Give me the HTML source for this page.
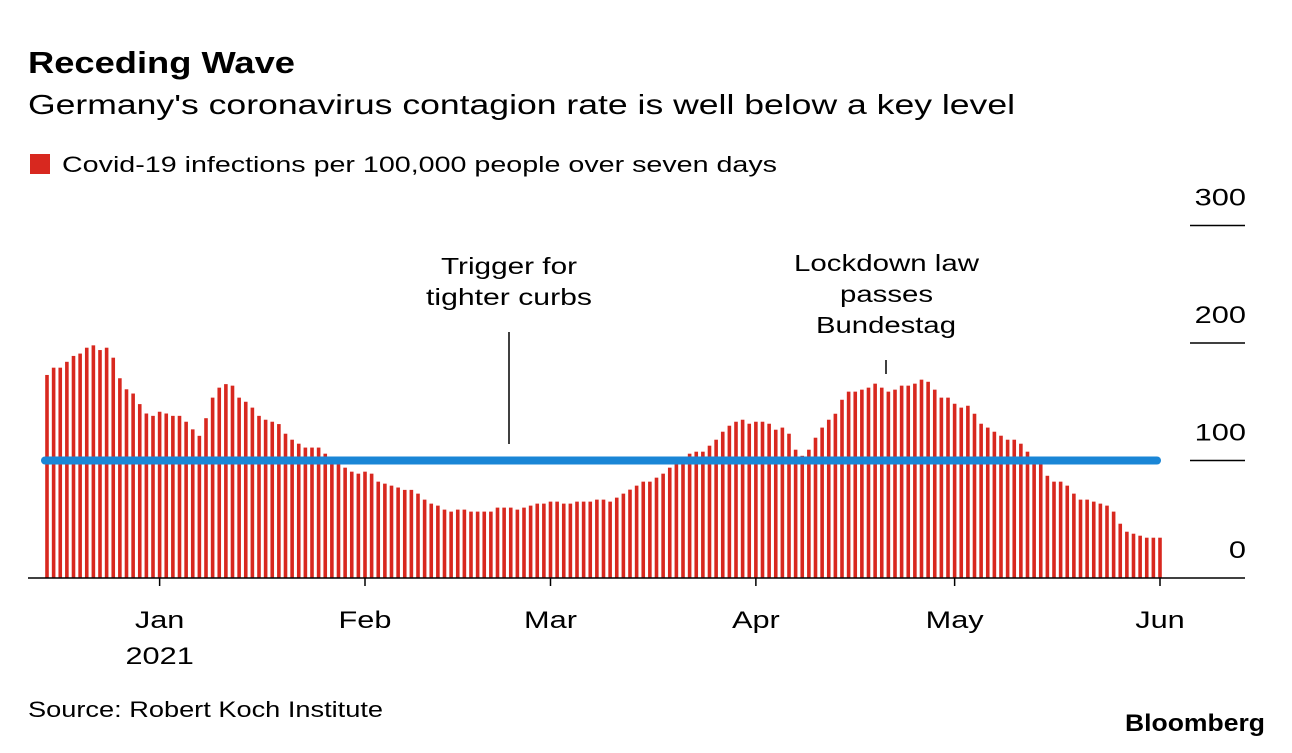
<!DOCTYPE html>
<html><head><meta charset="utf-8"><style>
body{margin:0;background:#fff;font-family:"Liberation Sans",sans-serif;}
svg text{font-family:"Liberation Sans",sans-serif;}
</style></head><body>
<svg id="c" width="1292" height="748" xmlns="http://www.w3.org/2000/svg">
<text x="28" y="73" font-size="31" font-weight="bold" fill="#000" textLength="267" lengthAdjust="spacingAndGlyphs">Receding Wave</text>
<text x="28" y="114" font-size="28" fill="#000" textLength="987" lengthAdjust="spacingAndGlyphs">Germany's coronavirus contagion rate is well below a key level</text>
<rect x="30" y="154" width="20" height="20" fill="#d8281f"/>
<text x="62" y="172" font-size="22" fill="#000" textLength="715" lengthAdjust="spacingAndGlyphs">Covid-19 infections per 100,000 people over seven days</text>
<g id="bars"></g>
<g id="axes"></g>
<g>
<text x="441" y="274" font-size="23" textLength="136" lengthAdjust="spacingAndGlyphs">Trigger for</text>
<text x="426" y="305" font-size="23" textLength="166" lengthAdjust="spacingAndGlyphs">tighter curbs</text>
</g>
<line x1="509" y1="332" x2="509" y2="444" stroke="#000" stroke-width="1.5"/>
<g>
<text x="794" y="271" font-size="23" textLength="185" lengthAdjust="spacingAndGlyphs">Lockdown law</text>
<text x="840" y="302" font-size="23" textLength="93" lengthAdjust="spacingAndGlyphs">passes</text>
<text x="816" y="333" font-size="23" textLength="140" lengthAdjust="spacingAndGlyphs">Bundestag</text>
</g>
<line x1="886" y1="360" x2="886" y2="374" stroke="#000" stroke-width="1.5"/>
<text x="28" y="717" font-size="22" textLength="355" lengthAdjust="spacingAndGlyphs">Source: Robert Koch Institute</text>
<text x="1125" y="731" font-size="24" font-weight="bold" textLength="140" lengthAdjust="spacingAndGlyphs">Bloomberg</text>
</svg>
<script>
const values=[172.8,179,179,184,189,191,196,198,194,196,187.5,170,160.6,157,148,140,138,141.5,140,138,138,133,126.5,121,136,153.5,162,165,163.7,153.5,150,145,138,134.7,133,131,122.8,117.7,114.3,111,111,111,105.8,102,98,93.9,90.5,88.8,90.5,88.8,82,80.3,78.6,77,75,75,
71.8,66.7,63.3,61.6,58.2,56.5,58.2,58.2,56.5,56.5,56.5,56.5,59.9,59.9,59.9,58.2,59.9,61.6,63.3,63.3,65,65,63.3,63.3,65,65,65,66.7,66.7,65,68.4,71.8,75.2,78.6,82,82,85.4,88.8,93.9,98,101,105.8,107.5,107.5,112.6,117.7,124.5,129.6,133,134.7,131.3,133,133,131.3,126.2,128,122.8,
109.2,104,109.2,119.4,128,134.7,139.8,151.7,158.6,158.6,160.3,162,165.4,162,158.6,160.3,163.7,163.7,165.4,168.8,167,160.3,153.5,153.5,148.3,145,146.6,139.8,131.3,128,124.5,121.1,117.7,117.7,114.3,107.5,101,97,87,82,82,78.6,71.8,66.7,66.7,65,63.3,61.6,56.5,46.2,39.4,37.7,36,34.3,34.3,34.3];
const yTicks=[0,100,200,300];
const monthLabels=["Jan","Feb","Mar","Apr","May","Jun"];
const monthDayIndex=[17,48,76,107,137,168];
const threshold=[100];
const NS="http://www.w3.org/2000/svg";
const y=v=>578-v*1.175;
const x=i=>47+i*6.625;
function mk(tag,attrs,parent){const e=document.createElementNS(NS,tag);for(const k in attrs)e.setAttribute(k,attrs[k]);parent.appendChild(e);return e;}
function widen(t){const w=t.getComputedTextLength();t.setAttribute('textLength',(w*1.28).toFixed(1));t.setAttribute('lengthAdjust','spacingAndGlyphs');}
const bars=document.getElementById('bars'),axes=document.getElementById('axes');
values.forEach((v,i)=>{
  const r=mk('rect',{x:x(i)-1.8,y:y(v),width:3.6,height:578-y(v),fill:'#d8281f'},bars);
  
  
});
const bl=mk('line',{x1:45,x2:1157,y1:y(threshold[0]),y2:y(threshold[0]),stroke:'#1a86d6','stroke-width':8,'stroke-linecap':'round'},axes);


const base=mk('line',{x1:28,x2:1245,y1:578,y2:578,stroke:'#000','stroke-width':1.5},axes);


yTicks.forEach(t=>{
  if(t>0){const l=mk('line',{x1:1190,x2:1245,y1:y(t),y2:y(t),stroke:'#000','stroke-width':1.5},axes);
  
  }
  const tx=mk('text',{x:1246,y:y(t)-20,'font-size':24,'text-anchor':'end',fill:'#000'},axes);
  tx.textContent=t;
  
  
  widen(tx);
});
monthLabels.forEach((m,k)=>{
  const xi=x(monthDayIndex[k]);
  const l=mk('line',{x1:xi,x2:xi,y1:578,y2:586,stroke:'#000','stroke-width':1.5},axes);
  
  
  const t=mk('text',{x:xi,y:628,'font-size':24,'text-anchor':'middle'},axes);
  t.textContent=m;
  
  
  widen(t);
});
const yr=mk('text',{x:x(monthDayIndex[0]),y:664,'font-size':24,'text-anchor':'middle'},axes);
yr.textContent='2021';


widen(yr);
</script>
</body></html>
